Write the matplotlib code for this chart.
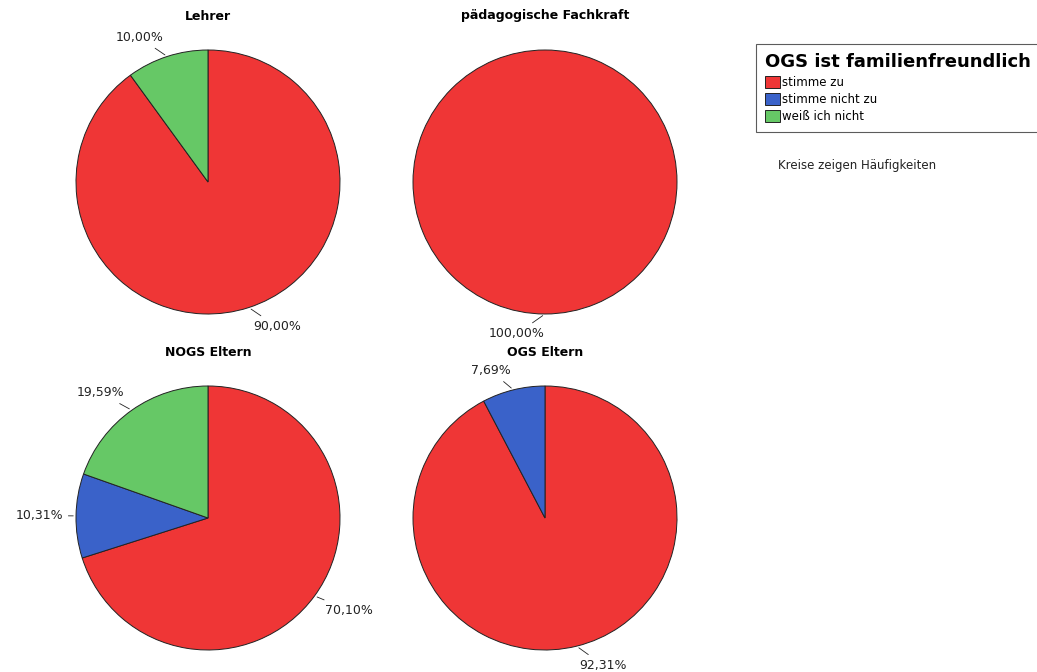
import numpy as np
import matplotlib
matplotlib.use("Agg")
import matplotlib.pyplot as plt
from matplotlib.patches import Patch

plt.rcParams['font.family'] = ['DejaVu Sans']

# --- Daten ---
gruppen = ["Lehrer", "pädagogische Fachkraft", "NOGS Eltern", "OGS Eltern"]
kategorien = ["stimme zu", "stimme nicht zu", "weiß ich nicht"]
lehrer = [90.00, 0.0, 10.00]
fachkraft = [100.00, 0.0, 0.0]
nogs_eltern = [70.10, 10.31, 19.59]
ogs_eltern = [92.31, 7.69, 0.0]
werte = [lehrer, fachkraft, nogs_eltern, ogs_eltern]

farben = ["#EF3636", "#3A62C9", "#66C866"]

W, H = 1037, 672
fig = plt.figure(figsize=(W / 100, H / 100), dpi=100)

# Kreismittelpunkte in Pixeln, Radius in Pixeln
zentren = [(208, 182), (545, 182), (208, 518), (545, 518)]
radius_px = 132
ext = 1.45

for name, vals, (cx, cy) in zip(gruppen, werte, zentren):
    w = 2 * ext * radius_px
    ax = fig.add_axes([(cx - w / 2) / W, 1 - (cy + w / 2) / H, w / W, w / H])

    nz = [(v, c) for v, c in zip(vals, farben) if v > 0]
    wedges, _ = ax.pie([v for v, _ in nz], colors=[c for _, c in nz],
                       startangle=90, counterclock=False, radius=1,
                       wedgeprops=dict(edgecolor="#222222", linewidth=0.7))
    ax.set_xlim(-ext, ext)
    ax.set_ylim(-ext, ext)
    ax.set_aspect("equal")
    ax.axis("off")
    for wg, (v, _) in zip(wedges, nz):
        mid = np.deg2rad((wg.theta1 + wg.theta2) / 2)
        x0, y0 = np.cos(mid), np.sin(mid)
        x1, y1 = 1.1 * x0, 1.1 * y0
        if x0 > 0.05:
            ha = "left"
        else:
            ha = "right"
        va = "bottom" if y0 > 0.3 else ("top" if y0 < -0.3 else "center")
        ax.annotate(f"{v:.2f}%".replace(".", ","), xy=(x0, y0), xytext=(x1, y1),
                    ha=ha, va=va, fontsize=9, color="#222222",
                    arrowprops=dict(arrowstyle="-", color="#222222", lw=0.6))
    fig.text(cx / W, 1 - (cy - radius_px - 34) / H, name, ha="center", va="center",
             fontsize=9, fontweight="bold")

handles = [Patch(facecolor=c, edgecolor="#222222", linewidth=0.7) for c in farben]
leg = fig.legend(handles, kategorien, loc="upper left",
                 bbox_to_anchor=(756 / W, 1 - 44 / H), fontsize=8.5,
                 title="OGS ist familienfreundlich",
                 title_fontproperties=dict(size=13, weight="bold"),
                 frameon=True, fancybox=False, shadow=False,
                 handlelength=1.2, handleheight=1.2, handletextpad=0.2,
                 labelspacing=0.35, borderpad=0.8, alignment="left",
                 borderaxespad=0)
leg.get_frame().set_edgecolor("#333333")
leg.get_frame().set_linewidth(0.8)

fig.text(778 / W, 1 - 166 / H, "Kreise zeigen Häufigkeiten", fontsize=8.5,
         ha="left", va="center", color="#222222")

fig.savefig("out.png", dpi=100)
